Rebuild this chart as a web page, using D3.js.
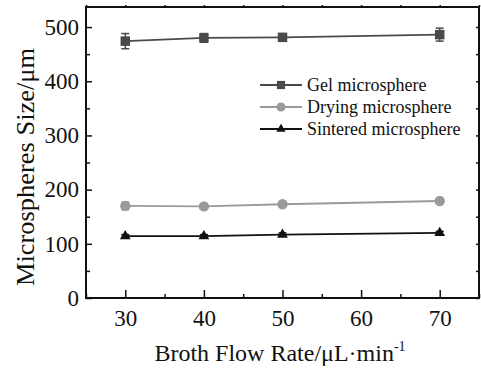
<!DOCTYPE html>
<html><head><meta charset="utf-8">
<script src="https://cdn.jsdelivr.net/npm/d3@7"></script>
<style>body{margin:0;background:#fff}svg{display:block}</style>
</head><body><svg id="c" width="481" height="369" style="font-family:'Liberation Serif','Times New Roman','DejaVu Serif',serif"></svg>
<script>
const flowRates = [30, 40, 50, 70];
const gelSize = [474, 480, 481, 486];
const gelErr = [14, 8, 3, 12];
const dryingSize = [170, 169, 173, 179];
const dryingErr = [7, 3, 3, 3];
const sinteredSize = [114, 114, 117, 120];
const sinteredErr = [3, 3, 3, 3];
const xTicks = [30, 40, 50, 60, 70];
const yTicks = [0, 100, 200, 300, 400, 500];
const seriesNames = ["Gel microsphere", "Drying microsphere", "Sintered microsphere"];

const FONT = "Liberation Serif, Times New Roman, DejaVu Serif, serif";
const svg = d3.select("#c");
const L = 86, R = 479, T = 7, B = 298;
const x = d3.scaleLinear().domain([25, 75]).range([L, R]);
const y = d3.scaleLinear().domain([0, 537]).range([B, T]);

// axes
const xMinor = d3.range(25, 76, 5).filter(v => v % 10 !== 0);
const yMinor = d3.range(50, 537, 100);
const ax = svg.append("g");
ax.append("g").attr("transform", `translate(0,${B})`)
  .call(d3.axisBottom(x).tickValues(xTicks).tickSize(-8).tickPadding(12).tickFormat(d3.format("d")))
  .call(g => g.selectAll("text").attr("font-size", 23).attr("dy", "0.71em"));
ax.append("g").attr("transform", `translate(0,${B})`)
  .call(d3.axisBottom(x).tickValues(xMinor).tickSize(-4).tickFormat(""));
ax.append("g").attr("transform", `translate(${L},0)`)
  .call(d3.axisLeft(y).tickValues(yTicks).tickSize(-6).tickPadding(7).tickFormat(d3.format("d")))
  .call(g => g.selectAll("text").attr("font-size", 23));
ax.append("g").attr("transform", `translate(${L},0)`)
  .call(d3.axisLeft(y).tickValues(yMinor).tickSize(-4).tickFormat(""));
ax.append("g").attr("transform", `translate(${R},0)`)
  .call(d3.axisRight(y).tickValues(yTicks.concat(yMinor)).tickSize(-3).tickFormat(""));
ax.append("g").attr("transform", `translate(0,${T})`)
  .call(d3.axisTop(x).tickValues(xTicks.concat(xMinor)).tickSize(2).tickFormat(""));
ax.selectAll(".domain").remove();
ax.selectAll("g").attr("font-family", FONT);
ax.selectAll("text").attr("fill", "#111");
ax.selectAll("line").attr("stroke", "#111").attr("stroke-width", 1.5);
svg.append("rect").attr("x", L).attr("y", T).attr("width", R - L).attr("height", B - T)
  .attr("fill", "none").attr("stroke", "#111").attr("stroke-width", 2);

// series
const series = [
  {vals: gelSize, err: gelErr, color: "#4a4a4a", sym: d3.symbolSquare, size: 90},
  {vals: dryingSize, err: dryingErr, color: "#9a9a9a", sym: d3.symbolCircle, size: 85},
  {vals: sinteredSize, err: sinteredErr, color: "#111111", sym: d3.symbolTriangle, size: 50}
];
const line = d3.line().x((d, i) => x(flowRates[i])).y(d => y(d));
series.forEach(s => {
  const g = svg.append("g");
  g.append("path").attr("d", line(s.vals)).attr("fill", "none").attr("stroke", s.color).attr("stroke-width", 1.8);
  s.vals.forEach((v, i) => {
    const cx = x(flowRates[i]);
    g.append("line").attr("x1", cx).attr("x2", cx).attr("y1", y(v - s.err[i])).attr("y2", y(v + s.err[i]))
      .attr("stroke", s.color).attr("stroke-width", 1.5);
    [v - s.err[i], v + s.err[i]].forEach(e => g.append("line").attr("x1", cx - 4).attr("x2", cx + 4)
      .attr("y1", y(e)).attr("y2", y(e)).attr("stroke", s.color).attr("stroke-width", 1.5));
    g.append("path").attr("d", d3.symbol().type(s.sym).size(s.size)())
      .attr("transform", `translate(${cx},${y(v)})`).attr("fill", s.color);
  });
});

// legend
const lg = svg.append("g");
series.forEach((s, i) => {
  const ly = 85 + i * 22;
  lg.append("line").attr("x1", 260).attr("x2", 302).attr("y1", ly).attr("y2", ly)
    .attr("stroke", s.color).attr("stroke-width", 1.8);
  lg.append("path").attr("d", d3.symbol().type(s.sym).size(s.size * 0.75)())
    .attr("transform", `translate(281,${ly})`).attr("fill", s.color);
  lg.append("text").attr("x", 307).attr("y", ly).attr("dy", "0.33em").attr("font-size", 18)
    .attr("font-family", FONT).attr("fill", "#111").text(seriesNames[i]);
});

// titles
const xt = svg.append("text").attr("x", 280).attr("y", 361).attr("text-anchor", "middle")
  .attr("font-size", 24).attr("font-family", FONT).attr("fill", "#111");
xt.append("tspan").text("Broth Flow Rate/μL·min");
xt.append("tspan").attr("font-size", 14).attr("dy", -10).text("-1");
svg.append("text").attr("transform", "translate(34,167) rotate(-90)").attr("text-anchor", "middle")
  .attr("font-size", 25).attr("textLength", 238).attr("lengthAdjust", "spacingAndGlyphs")
  .attr("font-family", FONT).attr("fill", "#111").text("Microspheres Size/μm");
</script></body></html>
